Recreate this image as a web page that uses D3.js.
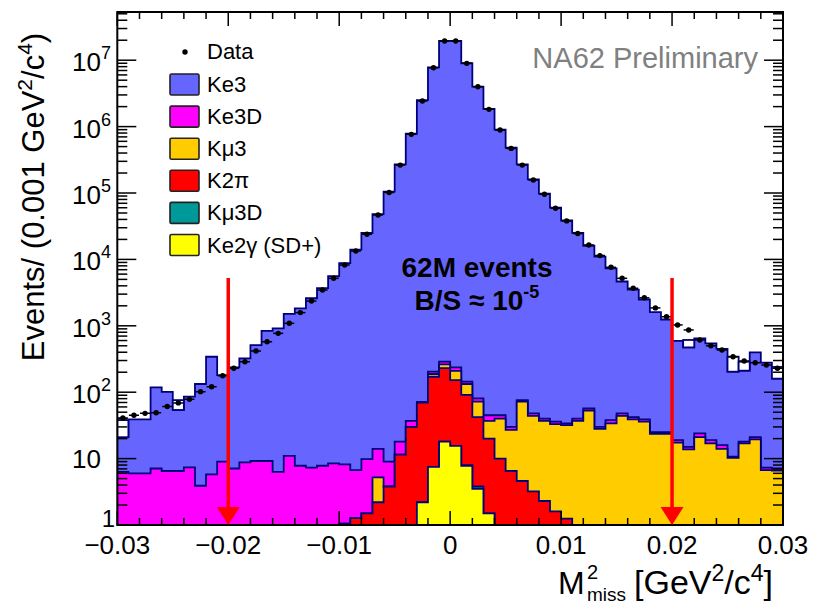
<!DOCTYPE html>
<html><head><meta charset="utf-8">
<script src="https://cdn.jsdelivr.net/npm/d3@7"></script>
<style>
body{margin:0;background:#fff}
svg{display:block}
text{font-family:"Liberation Sans",Arial,Helvetica,sans-serif}
</style>
</head><body>
<svg id="c" width="813" height="605"></svg>
<script>
// ---------- data ----------
const xMin = -0.03, xMax = 0.03, binWidth = 0.001;
const xTicks = [-0.03, -0.02, -0.01, 0, 0.01, 0.02, 0.03];
const yDecades = [1, 10, 100, 1e3, 1e4, 1e5, 1e6, 1e7];
const cutValues = [-0.02, 0.02];

const seriesNames = ["Ke3", "Ke3D", "K\u03bc3", "K2\u03c0", "K\u03bc3D", "Ke2\u03b3 (SD+)"];
const seriesColors = ["#6666ff", "#ff00ff", "#ffcc00", "#ff0000", "#009999", "#ffff00"];

// Data (events per bin)
const dataCounts = [41,45,48,49,61,69,78,102,121,177,229,288,417,575,770,1090,1580,2360,3460,5190,
  8240,13400,23900,46700,102000,263000,765000,2.43e6,7.7e6,1.95e7,1.95e7,8.96e6,3.98e6,1.82e6,8.9e5,4.7e5,2.63e5,1.57e5,9.6e4,5.9e4,
  3.8e4,2.46e4,1.65e4,1.14e4,7600,5190,3670,2640,1860,1370,1030,866,612,500,432,342,295,278,257,229];

// MC components (stacked bottom -> top: Ke2g, Kmu3D, K2pi, Kmu3, Ke3D, Ke3)
const ke3 = [14.7,33,33,111,94.5,47.5,78.6,129,336,172,230,315,503,827,910,1499,1822,2593,3692,5592,
  8792,13993,24990,47986,104991,269982,779963,2.5e6,7.8e6,1.95e7,1.95e7,9.0e6,4.0e6,1.85e6,9.0e5,4.8e5,2.7e5,1.6e5,9.8e4,6.0e4,
  3.85e4,2.5e4,1.6e4,1.1e4,7300,4600,3460,2450,1580,1220,575,458,620,526,432,193,193,376,272,153];
const ke3d = [6.3,6.0,6.0,7.1,6.5,6.5,7.4,3.9,5.8,9.0,7.1,8.8,9.2,9.2,6.3,11,7.8,7.3,7.8,8.5,
  7.15,5.43,8.3,8.8,5.2,6.5,7,1,16,26,27,11,9,8,5,3,4,4,3,3,
  2,3,4,2,4,4,3,3,1.5,1.5,1.6,1.2,3,2,2,0.4,1,1.5,0.6,0.5];
const kmu3 = [0,0,0,0,0,0,0,0,0,0,0,0,0,0,0,0,0,0,0,0,
  0,0,0,3.0,0,0,0,0,17,32,58,42,30,17,30,20.5,67.4,40.8,34.7,31.4,
  30.75,37,53,28,34,44,39,36,23.5,23.5,17.4,13.8,21,17,14,10.3,17,19.5,6.7,6.6];
const k2pi = [0,0,0,0,0,0,0,0,0,0,0,0,0,0,0,0,0,0,0,0,
  1.05,1.27,1.5,2.2,3.8,11.5,30,67.8,163.5,212,136.5,83,38.2,18.5,10,6.5,4.6,3.2,2.3,1.6,
  1.25,0,0,0,0,0,0,0,0,0,0,0,0,0,0,0,0,0,0,0];
const kmu3d = [0,0,0,0,0,0,0,0,0,0,0,0,0,0,0,0,0,0,0,0,
  0,0,0,0,0,0,0,0,0,0,0,0.2,0.3,0,0,0,0,0,0,0,
  0,0,0,0,0,0,0,0,0,0,0,0,0,0,0,0,0,0,0,0];
const ke2g = [0,0,0,0,0,0,0,0,0,0,0,0,0,0,0,0,0,0,0,0,
  0,0,0,0,0,0,0,2.2,7.5,18,15.5,7.8,3.5,1.5,0,0,0,0,0,0,
  0,0,0,0,0,0,0,0,0,0,0,0,0,0,0,0,0,0,0,0];
// upper outline of the MC histogram where it sits above the filled stack (null = same as stack)
const mcUpper = [38,null,null,null,null,76,null,null,null,null,null,null,null,null,null,null,null,null,null,null,
  null,null,null,null,null,null,null,null,null,null,null,null,null,null,null,null,null,null,null,null,
  null,null,null,null,null,null,null,null,null,null,null,612,null,null,null,343,288,null,null,240];

// ---------- layout ----------
const svg = d3.select("#c");
const L = 117.3, R = 783, T = 12, B = 525;
const x = d3.scaleLinear().domain([xMin, xMax]).range([L, R]);
const y = d3.scaleLog().domain([1, Math.pow(10, 7.726)]).range([B, T]);
const yy = v => y(Math.max(v, 1));
const navy = "#00007a";

const nBins = dataCounts.length;
const binLow = d3.range(nBins).map(i => xMin + i * binWidth);

const rows = binLow.map((lo, i) => ({
  lo, "Ke2g": ke2g[i], "Kmu3D": kmu3d[i], "K2pi": k2pi[i], "Kmu3": kmu3[i], "Ke3D": ke3d[i], "Ke3": ke3[i]
}));
const keys = ["Ke2g", "Kmu3D", "K2pi", "Kmu3", "Ke3D", "Ke3"];
const keyColor = {"Ke3": seriesColors[0], "Ke3D": seriesColors[1], "Kmu3": seriesColors[2], "K2pi": seriesColors[3], "Kmu3D": seriesColors[4], "Ke2g": seriesColors[5]};
const stacked = d3.stack().keys(keys)(rows);

svg.append("clipPath").attr("id", "clip").append("rect")
  .attr("x", L).attr("y", T).attr("width", R - L).attr("height", B - T);
const plot = svg.append("g").attr("clip-path", "url(#clip)");

function stepPath(tops) {
  let p = `M${x(xMin)},${B + 2}`;
  tops.forEach((t, i) => {
    p += `L${x(binLow[i])},${yy(t)}L${x(binLow[i] + binWidth)},${yy(t)}`;
  });
  p += `L${x(xMax)},${B + 2}Z`;
  return p;
}

// draw top of stack first, lower components in front
stacked.slice().reverse().forEach(s => {
  plot.append("path")
    .attr("d", stepPath(s.map(d => d[1])))
    .attr("fill", keyColor[s.key])
    .attr("stroke", navy).attr("stroke-width", 1.8)
    .attr("stroke-linejoin", "miter");
});

// white boxes where the MC outline is above the filled stack
const total = stacked[stacked.length - 1].map(d => d[1]);
plot.selectAll("rect.up").data(mcUpper.map((v, i) => ({v, i})).filter(d => d.v !== null))
  .join("rect").attr("class", "up")
  .attr("x", d => x(binLow[d.i])).attr("width", x(binWidth) - x(0))
  .attr("y", d => yy(d.v)).attr("height", d => yy(total[d.i]) - yy(d.v))
  .attr("fill", "#fff").attr("stroke", navy).attr("stroke-width", 1.8);

// data points
const pts = plot.append("g");
dataCounts.forEach((v, i) => {
  pts.append("line")
    .attr("x1", x(binLow[i]) + 0.5).attr("x2", x(binLow[i] + binWidth) - 0.5)
    .attr("y1", yy(v)).attr("y2", yy(v))
    .attr("stroke", "#000").attr("stroke-width", 1.5);
  pts.append("circle").attr("cx", x(binLow[i] + binWidth / 2)).attr("cy", yy(v))
    .attr("r", 2.7).attr("fill", "#000");
});

// ---------- axes ----------
const ax = svg.append("g").attr("stroke", "#000").attr("stroke-width", 1.5);
const xMinor = d3.range(-15, 16).map(k => k * 0.002);
xMinor.forEach(v => {
  const major = Math.abs(Math.round(v * 100) - v * 100) < 1e-6;
  const len = major ? 14 : 7;
  ax.append("line").attr("x1", x(v)).attr("x2", x(v)).attr("y1", B).attr("y2", B - len);
  ax.append("line").attr("x1", x(v)).attr("x2", x(v)).attr("y1", T).attr("y2", T + len);
});
const yMax = y.domain()[1];
yDecades.forEach(d => {
  ax.append("line").attr("x1", L).attr("x2", L + 19).attr("y1", y(d)).attr("y2", y(d));
  ax.append("line").attr("x1", R).attr("x2", R - 19).attr("y1", y(d)).attr("y2", y(d));
  for (let m = 2; m <= 9; m++) {
    const v = m * d;
    if (v > yMax) break;
    ax.append("line").attr("x1", L).attr("x2", L + 10).attr("y1", y(v)).attr("y2", y(v));
    ax.append("line").attr("x1", R).attr("x2", R - 10).attr("y1", y(v)).attr("y2", y(v));
  }
});
svg.append("rect").attr("x", L).attr("y", T).attr("width", R - L).attr("height", B - T)
  .attr("fill", "none").attr("stroke", "#000").attr("stroke-width", 2);

// x tick labels
const fmtX = v => v === 0 ? "0" : (v < 0 ? "\u2212" : "") + Math.abs(v).toFixed(2);
svg.selectAll("text.xt").data(xTicks).join("text").attr("class", "xt")
  .attr("x", d => x(d)).attr("y", 554).attr("text-anchor", "middle")
  .attr("font-size", 26).text(fmtX);

// y tick labels
yDecades.forEach(d => {
  const n = Math.round(Math.log10(d));
  if (n === 0) {
    svg.append("text").attr("x", 115).attr("y", y(d) + 2).attr("text-anchor", "end")
      .attr("font-size", 24).text("1");
  } else if (n === 1) {
    svg.append("text").attr("x", 101).attr("y", y(d) + 9).attr("text-anchor", "end")
      .attr("font-size", 26).text("10");
  } else {
    const t = svg.append("text").attr("x", 111).attr("y", y(d) + 11).attr("text-anchor", "end")
      .attr("font-size", 26);
    t.append("tspan").text("10");
    t.append("tspan").attr("font-size", 18).attr("dy", -12).text(String(n));
  }
});

// axis titles
const yt = svg.append("text").attr("transform", "translate(44,197) rotate(-90)")
  .attr("text-anchor", "middle").attr("font-size", 31);
yt.append("tspan").text("Events/ (0.001 GeV");
yt.append("tspan").attr("font-size", 21).attr("dy", -12).text("2");
yt.append("tspan").attr("dy", 12).text("/c");
yt.append("tspan").attr("font-size", 21).attr("dy", -12).text("4");
yt.append("tspan").attr("dy", 12).text(")");

svg.append("text").attr("x", 558).attr("y", 594).attr("font-size", 32).text("M");
svg.append("text").attr("x", 587).attr("y", 579).attr("font-size", 20).text("2");
svg.append("text").attr("x", 587).attr("y", 601).attr("font-size", 19).text("miss");
const xt = svg.append("text").attr("x", 634).attr("y", 594).attr("font-size", 34);
xt.append("tspan").text("[GeV");
xt.append("tspan").attr("font-size", 23).attr("dy", -13).text("2");
xt.append("tspan").attr("dy", 13).text("/c");
xt.append("tspan").attr("font-size", 23).attr("dy", -13).text("4");
xt.append("tspan").attr("dy", 13).text("]");

// cut arrows
cutValues.forEach(c => {
  const cx = x(c);
  svg.append("line").attr("x1", cx).attr("x2", cx).attr("y1", 278).attr("y2", B - 16)
    .attr("stroke", "#ff0000").attr("stroke-width", 3.5);
  svg.append("path").attr("d", `M${cx - 11.5},${B - 18}L${cx + 11.5},${B - 18}L${cx},${B}Z`)
    .attr("fill", "#ff0000");
});

// annotation
svg.append("text").attr("x", 477).attr("y", 277).attr("text-anchor", "middle")
  .attr("font-size", 28).attr("font-weight", "bold").text("62M events");
const bs = svg.append("text").attr("x", 477).attr("y", 310).attr("text-anchor", "middle")
  .attr("font-size", 28).attr("font-weight", "bold");
bs.append("tspan").text("B/S \u2248 10");
bs.append("tspan").attr("font-size", 18).attr("dy", -12).text("-5");

svg.append("text").attr("x", 758).attr("y", 68).attr("text-anchor", "end")
  .attr("font-size", 29).attr("fill", "#808080").text("NA62 Preliminary");

// legend
svg.append("circle").attr("cx", 185).attr("cy", 52).attr("r", 2.7).attr("fill", "#000");
svg.append("text").attr("x", 207).attr("y", 59).attr("font-size", 22).text("Data");
const leg = svg.append("g");
seriesNames.forEach((name, i) => {
  const yTop = 74 + i * 32.1;
  leg.append("rect").attr("x", 170).attr("y", yTop).attr("width", 29).attr("height", 21)
    .attr("rx", 1.5).attr("fill", seriesColors[i]).attr("stroke", "#222").attr("stroke-width", 1.6);
  leg.append("text").attr("x", 207).attr("y", yTop + 18).attr("font-size", 22).text(name);
});
</script>
</body></html>
